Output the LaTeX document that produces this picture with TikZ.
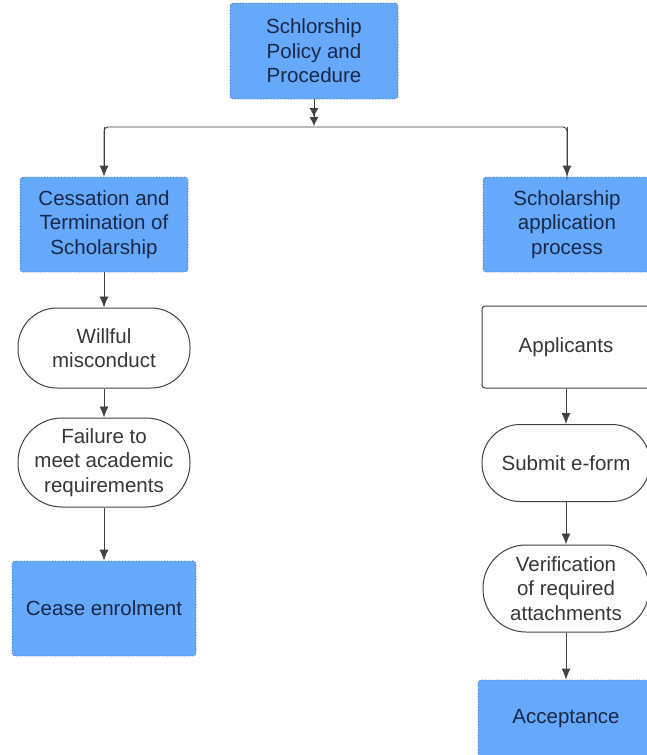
\documentclass[tikz,border=0pt]{standalone}
\usepackage{fontspec}
\setmainfont{Liberation Sans}
\usetikzlibrary{arrows.meta}
\definecolor{boxblue}{RGB}{102,168,250}
\definecolor{boxedge}{RGB}{70,110,170}
\definecolor{navy}{RGB}{25,40,70}
\definecolor{greytxt}{RGB}{55,55,55}
\definecolor{lineg}{RGB}{65,65,65}
\tikzset{
  bluebox/.style={draw=boxedge, dotted, line width=0.8pt, fill=boxblue, rounded corners=3pt,
    text=navy, align=center, font=\fontsize{20.5}{24.5}\selectfont, inner sep=0pt},
  pill/.style={draw=lineg, line width=1pt, fill=white, rounded corners=39pt,
    text=greytxt, align=center, font=\fontsize{20.5}{24.5}\selectfont, inner sep=0pt},
  plainbox/.style={draw=lineg, line width=1pt, fill=white, rounded corners=3pt,
    text=greytxt, align=center, font=\fontsize{20.5}{24.5}\selectfont, inner sep=0pt},
  conn/.style={draw=lineg, line width=0.9pt, -{Latex[length=11pt,width=9pt]}},
}
\begin{document}
\begin{tikzpicture}[x=1pt,y=-1pt]
\useasboundingbox (0,0) rectangle (647,755);
\node[bluebox, minimum width=168pt, minimum height=96pt] (top) at (314,51) {Schlorship\\Policy and\\Procedure};
\node[bluebox, minimum width=168pt, minimum height=95pt] (cess) at (104,224.5) {Cessation and\\Termination of\\Scholarship};
\node[bluebox, minimum width=168pt, minimum height=95pt] (app) at (567,224.5) {Scholarship\\application\\process};
\node[pill, minimum width=172pt, minimum height=80pt] (will) at (104,348) {Willful\\misconduct};
\node[pill, minimum width=172pt, minimum height=89pt, rounded corners=44pt] (fail) at (104,462.5) {Failure to\\meet academic\\requirements};
\node[bluebox, minimum width=184pt, minimum height=95pt] (cease) at (104,608.5) {Cease enrolment};
\node[plainbox, minimum width=168pt, minimum height=82pt] (appl) at (566,347) {Applicants};
\node[pill, minimum width=168pt, minimum height=77pt, rounded corners=38pt] (sub) at (566,463) {Submit e-form};
\node[pill, minimum width=166pt, minimum height=87pt, rounded corners=43pt] (ver) at (566,588.5) {Verification\\of required\\attachments};
\node[bluebox, minimum width=176pt, minimum height=78pt] (acc) at (566,719) {Acceptance};
\coordinate (j) at (314,127);
\draw[draw=lineg, line width=0.9pt, -{Latex[length=9pt,width=9pt]Latex[length=9pt,width=9pt]}] (top.south) -- (314,126);
\draw[draw=lineg, line width=0.9pt, rounded corners=4pt] (cess.north) ++(0,-3) |- (j) -| ([yshift=-3pt]app.north);
\draw[conn] (104,127) -- (cess.north);
\draw[conn] (567,127) -- (app.north);
\draw[conn] (cess.south) -- (will.north);
\draw[conn] (will.south) -- (fail.north);
\draw[conn] (fail.south) -- (cease.north);
\draw[conn] (appl.south) -- (sub.north);
\draw[conn] (sub.south) -- (ver.north);
\draw[conn] (ver.south) -- (acc.north);
\end{tikzpicture}
\end{document}
